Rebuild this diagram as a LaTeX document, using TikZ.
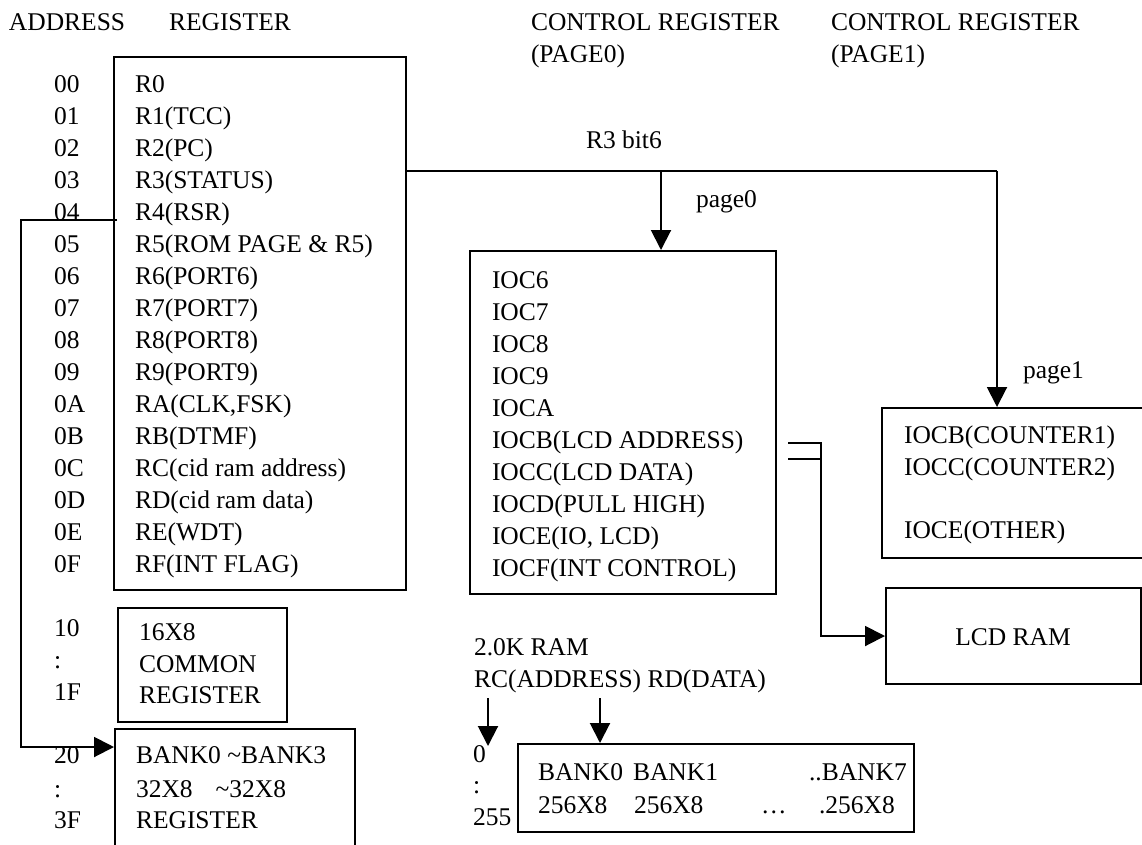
\documentclass[tikz,border=0pt]{standalone}
\usepackage{fontspec}
\setmainfont{Liberation Serif}
\usetikzlibrary{arrows.meta}
\begin{document}
\begin{tikzpicture}[x=1pt,y=-1pt,line width=2pt,
  box/.style={draw,line width=2pt,inner sep=0pt,anchor=north west},
  t/.style={anchor=base west,inner sep=0pt,font=\fontsize{25.5}{30}\selectfont},
  arr/.style={-{Triangle[length=20pt,width=20pt]}}]
\useasboundingbox (0,0) rectangle (1142,844);
\clip (0,0) rectangle (1142,844);
% headers
\node[t] (hA) at (8,30) {ADDRESS};
\node[t] (hR) at (168,30) {REGISTER};
\node[t] (hC0) at (530,30) {CONTROL REGISTER};
\node[t] (hP0) at (530,62) {(PAGE0)};
\node[t] (hC1) at (830,30) {CONTROL REGISTER};
\node[t] (hP1) at (830,62) {(PAGE1)};
% boxes
\node[box,minimum width=292pt,minimum height=533pt] (reg) at (113,56) {};
\node[box,minimum width=306pt,minimum height=343pt] (p0) at (469,250) {};
\node[box,minimum width=290pt,minimum height=150pt] (p1) at (881,407) {};
\node[box,minimum width=255pt,minimum height=96pt] (lram) at (885,587) {};
\node[box,minimum width=169pt,minimum height=114pt] (com) at (117,607) {};
\node[box,minimum width=240pt,minimum height=140pt] (breg) at (114,728) {};
\node[box,minimum width=396pt,minimum height=88pt] (ram) at (517,743) {};
% register rows
\foreach \a/\r [count=\i from 0] in {00/R0,01/R1(TCC),02/R2(PC),03/R3(STATUS),04/R4(RSR),05/{R5(ROM PAGE \& R5)},06/R6(PORT6),07/R7(PORT7),08/R8(PORT8),09/R9(PORT9),0A/{RA(CLK,FSK)},0B/RB(DTMF),0C/RC(cid ram address),0D/RD(cid ram data),0E/RE(WDT),0F/RF(INT FLAG)}{
  \node[t] (a\i) at (53,{92+32.05*\i}) {\a};
  \node[t] (r\i) at (134,{92+32.05*\i}) {\r};
}
% page0 rows
\foreach \r [count=\i from 0] in {IOC6,IOC7,IOC8,IOC9,IOCA,IOCB(LCD ADDRESS),IOCC(LCD DATA),IOCD(PULL HIGH),{IOCE(IO, LCD)},IOCF(INT CONTROL)}{
  \node[t] (q\i) at (491,{288+32.1*\i}) {\r};
}
% page1 rows
\node[t] (s1) at (903,443) {IOCB(COUNTER1)};
\node[t] (s2) at (903,475) {IOCC(COUNTER2)};
\node[t] (s3) at (903,538) {IOCE(OTHER)};
% LCD RAM
\node[t,anchor=base] (lt) at (1013,645) {LCD RAM};
% common register
\node[t] (c10) at (53,636) {10};
\node[t] (c11) at (53,668) {:};
\node[t] (c1F) at (53,700) {1F};
\node[t] (m1) at (138,640) {16X8};
\node[t] (m2) at (138,672) {COMMON};
\node[t] (m3) at (138,703) {REGISTER};
% bank register
\node[t] (b20) at (53,763) {20};
\node[t] (b21) at (53,797) {:};
\node[t] (b3F) at (53,828) {3F};
\node[t] (n1) at (135,763) {BANK0 \textasciitilde BANK3};
\node[t] (n2) at (135,797) {32X8\hspace{0.9em}\textasciitilde 32X8};
\node[t] (n3) at (135,828) {REGISTER};
% RAM
\node[t] (k1) at (473,655) {2.0K RAM};
\node[t] (k2) at (473,687) {RC(ADDRESS) RD(DATA)};
\node[t] (z0) at (472,762) {0};
\node[t] (z1) at (472,793) {:};
\node[t] (z2) at (472,825) {255};
\node[t] (w1) at (537,780) {BANK0};
\node[t] (w2) at (632,780) {BANK1};
\node[t] (w3) at (808,780) {..BANK7};
\node[t] (v1) at (537,813) {256X8};
\node[t] (v2) at (633,813) {256X8};
\node[t] (v3) at (760,813) {\dots};
\node[t] (v4) at (818,813) {.256X8};
% labels
\node[t] (lb1) at (585,148) {R3 bit6};
\node[t] (lb2) at (695,207) {page0};
\node[t] (lb3) at (1022,378) {page1};
% connectors
\coordinate (r3o) at (405,171);
\coordinate (jA) at (661,171);
\coordinate (jB) at (997,171);
\draw (r3o) -- (jB);
\draw[arr] (jA) -- (jA |- p0.north);
\draw[arr] (jB) -- (jB |- p1.north);
\coordinate (c4) at (117,220);
\coordinate (c4l) at (21,220);
\coordinate (bin) at (114,747);
\draw[arr] (c4) -- (c4l) |- (bin);
\coordinate (l1) at (788,443);
\coordinate (l2) at (788,459);
\coordinate (lv) at (821,443);
\draw[arr] (l1) -- (lv) |- (lram.west);
\draw (l2) -- (l2 -| lv);
\coordinate (ka) at (488,698);
\coordinate (kb) at (600,698);
\draw[arr] (ka) -- (488,746);
\draw[arr] (kb) -- (kb |- ram.north);
\end{tikzpicture}
\end{document}
